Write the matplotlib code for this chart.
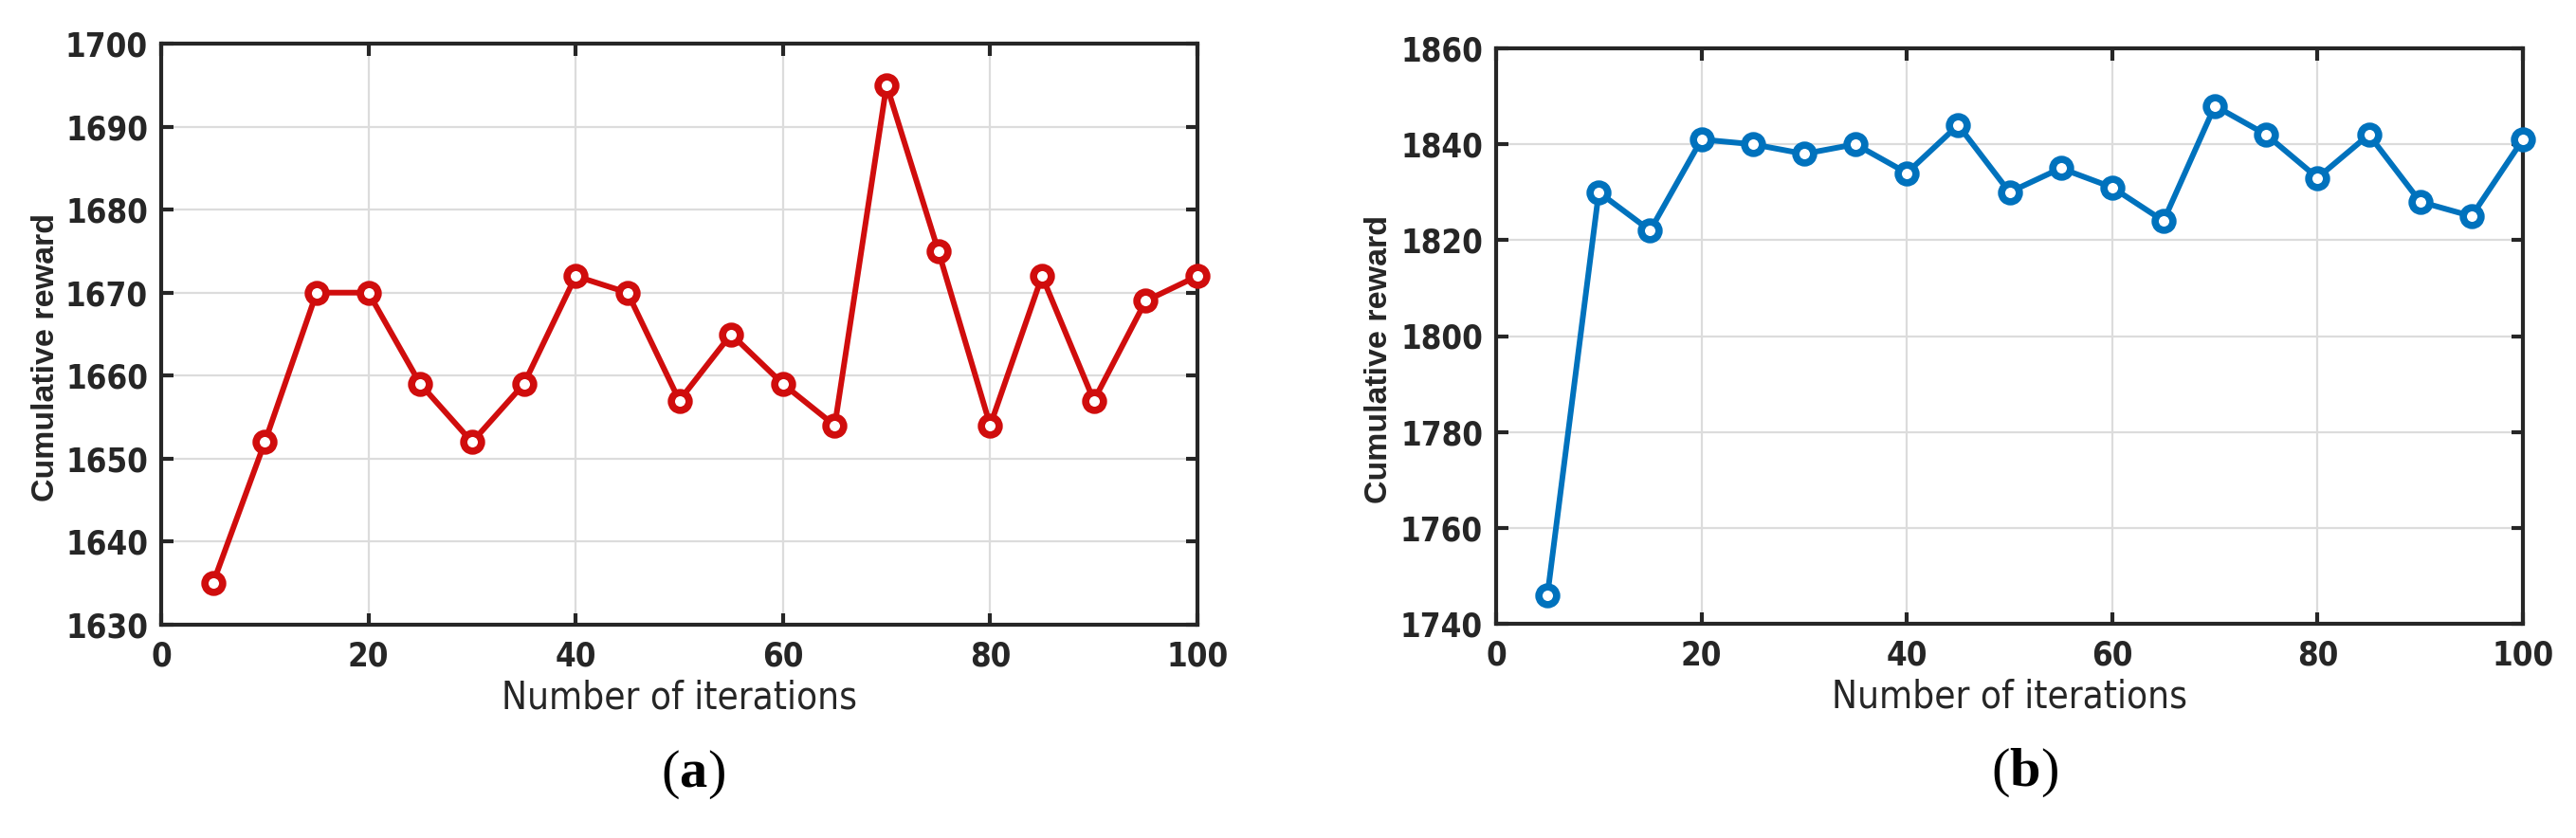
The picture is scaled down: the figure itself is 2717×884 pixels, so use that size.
import matplotlib.pyplot as plt
import numpy as np

iterations = [5, 10, 15, 20, 25, 30, 35, 40, 45, 50,
              55, 60, 65, 70, 75, 80, 85, 90, 95, 100]
reward_a = [1635, 1652, 1670, 1670, 1659, 1652, 1659, 1672, 1670, 1657,
            1665, 1659, 1654, 1695, 1675, 1654, 1672, 1657, 1669, 1672]
reward_b = [1746, 1830, 1822, 1841, 1840, 1838, 1840, 1834, 1844, 1830,
            1835, 1831, 1824, 1848, 1842, 1833, 1842, 1828, 1825, 1841]

x_ticks = [0, 20, 40, 60, 80, 100]
y_ticks_a = [1630, 1640, 1650, 1660, 1670, 1680, 1690, 1700]
y_ticks_b = [1740, 1760, 1780, 1800, 1820, 1840, 1860]

W, H = 2717, 884
fig = plt.figure(figsize=(W / 100, H / 100), dpi=100)

narrow = ['DejaVu Sans']
tick_font = dict(family=narrow, weight='bold', stretch='condensed', size=25)
dark = '#262626'
serif = ['Liberation Serif', 'DejaVu Serif']


def setup_panel(rect, y, ylim, yticks, color, letter, label_x):
    ax = fig.add_axes(rect)
    ax.plot(iterations, y, color=color, lw=4.3, marker='o', ms=13.5,
            mew=5.5, mfc='white', mec=color, zorder=3, clip_on=False)
    ax.set_xlim(0, 100)
    ax.set_ylim(*ylim)
    ax.set_xticks(x_ticks)
    ax.set_yticks(yticks)
    ax.set_xticklabels([str(v) for v in x_ticks], fontdict=tick_font, color=dark)
    ax.set_yticklabels([str(v) for v in yticks], fontdict=tick_font, color=dark)
    ax.grid(True, color='#dcdcdc', lw=1.6)
    ax.set_axisbelow(True)
    for s in ax.spines.values():
        s.set_linewidth(3)
        s.set_color(dark)
    ax.tick_params(direction='in', length=9, width=3, color=dark,
                   top=True, right=True)
    ax.tick_params(axis='x', pad=12)
    ax.tick_params(axis='y', pad=10)
    ax.set_xlabel('Number of iterations', family=narrow, stretch='condensed',
                  size=29, color=dark, labelpad=5)
    ax.set_ylabel('Cumulative reward', family=['Liberation Sans', 'DejaVu Sans'],
                  weight='bold', size=24.5, color=dark)
    ax.yaxis.set_label_coords(label_x, 0.46)
    ax.text(0.5, -0.215, '(', transform=ax.transAxes, ha='right', va='top',
            family=serif, size=42)
    ax.text(0.5, -0.215, letter, transform=ax.transAxes, ha='left', va='top',
            family=serif, weight='bold', size=42)
    ax.annotate(')', xy=(1, 0), xycoords=ax.texts[-1], ha='left', va='bottom',
                family=serif, size=42)
    return ax


ax1 = setup_panel([170 / W, 1 - 659 / H, (1263 - 170) / W, (659 - 46) / H],
                  reward_a, (1630, 1700), y_ticks_a, '#d00d0d', 'a', -0.097)
ax2 = setup_panel([1578 / W, 1 - 658 / H, (2661 - 1578) / W, (658 - 51) / H],
                  reward_b, (1740, 1860), y_ticks_b, '#0072bd', 'b', -0.1)

fig.savefig('out.png', dpi=100)
